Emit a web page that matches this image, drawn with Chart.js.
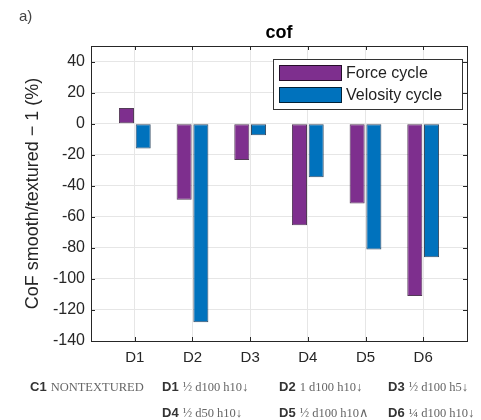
<!DOCTYPE html>
<html>
<head>
<meta charset="utf-8">
<script src="https://cdn.jsdelivr.net/npm/chart.js@4.4.1/dist/chart.umd.min.js"></script>
<style>
  body { margin: 0; background: #fff; }
  #wrap { position: relative; width: 481px; height: 420px; }
  #caption span { position: absolute; white-space: nowrap; }
  .k { font: bold 13px "Liberation Sans", Arial, sans-serif; color: #333; }
  .v { font: 12.5px "Liberation Serif", "Times New Roman", serif; color: #666; }
</style>
</head>
<body>
<div id="wrap">
  <canvas id="chart" width="481" height="420"></canvas>
  <div id="caption"></div>
</div>
<script>
// data
var categories = ['D1', 'D2', 'D3', 'D4', 'D5', 'D6'];
var forceCycle = [10, -49, -23.5, -65.5, -51.5, -111];
var velosityCycle = [-16, -128, -7.5, -34.5, -81, -86];
var yTicks = [-140, -120, -100, -80, -60, -40, -20, 0, 20, 40];
var seriesNames = ['Force cycle', 'Velosity cycle'];
var seriesColors = ['#7e2f8e', '#0072bd'];

var captionItems = [
  ['C1', 'NONTEXTURED', 30, 377],
  ['D1', '½ d100 h10↓', 162, 377],
  ['D2', '1 d100 h10↓', 279, 377],
  ['D3', '½ d100 h5↓', 388, 377],
  ['D4', '½ d50 h10↓', 162, 403],
  ['D5', '½ d100 h10∧', 279, 403],
  ['D6', '¼ d100 h10↓', 388, 403]
];

var cap = document.getElementById('caption');
for (var i = 0; i < captionItems.length; i++) {
  var it = captionItems[i];
  var s = document.createElement('span');
  s.style.left = it[2] + 'px';
  s.style.top = it[3] + 'px';
  s.innerHTML = '<span class="k" style="position:static">' + it[0] + '</span> <span class="v" style="position:static">' + it[1] + '</span>';
  cap.appendChild(s);
}

function toPoints(arr) {
  var out = [];
  for (var i = 0; i < arr.length; i++) {
    out.push({ x: i + 1, y: arr[i] });
  }
  return out;
}

// box, inward ticks, title, "a)" and the legend
var decor = {
  id: 'decor',
  afterDatasetsDraw: function(chart) {
    var ctx = chart.ctx;
    var a = chart.chartArea;
    var xs = chart.scales.x;
    var ys = chart.scales.y;
    ctx.save();
    ctx.strokeStyle = '#262626';
    ctx.lineWidth = 1;
    ctx.beginPath();
    for (var i = 0; i < categories.length; i++) {
      var px = Math.round(xs.getPixelForValue(i + 1)) + 0.5;
      ctx.moveTo(px, a.top); ctx.lineTo(px, a.top + 4);
      ctx.moveTo(px, a.bottom); ctx.lineTo(px, a.bottom - 4);
    }
    for (var j = 0; j < yTicks.length; j++) {
      var py = Math.round(ys.getPixelForValue(yTicks[j])) + 0.5;
      ctx.moveTo(a.left, py); ctx.lineTo(a.left + 4, py);
      ctx.moveTo(a.right, py); ctx.lineTo(a.right - 4, py);
    }
    ctx.stroke();
    ctx.strokeRect(Math.round(a.left) + 0.5, Math.round(a.top) + 0.5,
      Math.round(a.right - a.left), Math.round(a.bottom - a.top));

    // legend
    var lx = 273, ly = 59, lw = 189, lh = 50;
    ctx.fillStyle = '#fff';
    ctx.fillRect(lx, ly, lw, lh);
    ctx.strokeStyle = '#333';
    ctx.strokeRect(lx + 0.5, ly + 0.5, lw, lh);
    ctx.font = '16px "Liberation Sans", Arial, sans-serif';
    ctx.textBaseline = 'middle';
    for (var k = 0; k < seriesNames.length; k++) {
      var sy = ly + 6 + k * 22;
      ctx.fillStyle = seriesColors[k];
      ctx.fillRect(lx + 6, sy, 63, 16);
      ctx.strokeStyle = 'rgba(0,0,0,0.7)';
      ctx.strokeRect(lx + 6.5, sy + 0.5, 62, 15);
      ctx.fillStyle = '#222';
      ctx.fillText(seriesNames[k], lx + 73, sy + 9);
    }

    // title and panel letter
    ctx.fillStyle = '#000';
    ctx.textAlign = 'center';
    ctx.font = 'bold 18px "Liberation Sans", Arial, sans-serif';
    ctx.fillText('cof', (a.left + a.right) / 2, 33);
    ctx.textAlign = 'left';
    ctx.fillStyle = '#444';
    ctx.font = '15px "Liberation Sans", Arial, sans-serif';
    ctx.fillText('a)', 19, 17);
    ctx.restore();
  }
};

var chart = new Chart(document.getElementById('chart').getContext('2d'), {
  type: 'bar',
  data: {
    datasets: [
      {
        label: seriesNames[0],
        data: toPoints(forceCycle),
        backgroundColor: seriesColors[0],
        borderColor: 'rgba(40,10,45,0.8)',
        borderWidth: 1,
        borderSkipped: false
      },
      {
        label: seriesNames[1],
        data: toPoints(velosityCycle),
        backgroundColor: seriesColors[1],
        borderColor: 'rgba(0,30,60,0.8)',
        borderWidth: 1,
        borderSkipped: false
      }
    ]
  },
  options: {
    responsive: false,
    animation: false,
    categoryPercentage: 0.58,
    barPercentage: 0.9,
    layout: { padding: { left: 0, right: 14, top: 46, bottom: 0 } },
    plugins: {
      legend: { display: false },
      tooltip: { enabled: false }
    },
    scales: {
      x: {
        type: 'linear',
        offset: false,
        min: 0.24,
        max: 6.76,
        afterBuildTicks: function(scale) {
          scale.ticks = categories.map(function(c, i) { return { value: i + 1 }; });
        },
        afterFit: function(scale) { scale.height = 79; },
        ticks: {
          padding: 8,
          color: '#262626',
          font: { family: '"Liberation Sans", Arial, sans-serif', size: 15 },
          callback: function(v) { return categories[v - 1]; }
        },
        grid: { color: '#e6e6e6', drawTicks: false, offset: false },
        border: { display: false }
      },
      y: {
        min: -140,
        max: 50,
        afterBuildTicks: function(scale) {
          scale.ticks = yTicks.map(function(v) { return { value: v }; });
        },
        afterFit: function(scale) { scale.width = 91; },
        ticks: {
          padding: 6,
          color: '#262626',
          font: { family: '"Liberation Sans", Arial, sans-serif', size: 16 }
        },
        grid: { color: '#e6e6e6', drawTicks: false },
        border: { display: false },
        title: {
          display: true,
          text: 'CoF smooth/textured − 1 (%)',
          color: '#262626',
          font: { family: '"Liberation Sans", Arial, sans-serif', size: 18 },
          padding: { top: 22, bottom: 0 }
        }
      }
    }
  },
  plugins: [decor]
});
</script>
</body>
</html>
